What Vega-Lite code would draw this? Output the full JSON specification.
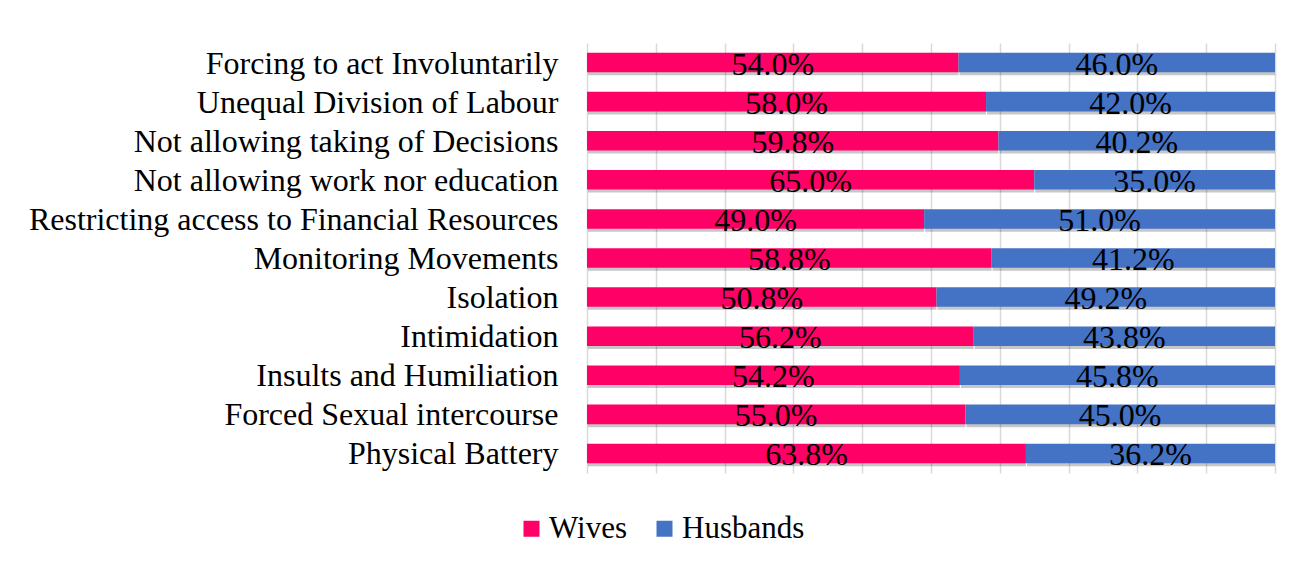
{
  "$schema": "https://vega.github.io/schema/vega-lite/v6.json",
  "width": 688,
  "height": 430,
  "autosize": {"type": "none"},
  "padding": {"left": 587, "top": 43, "right": 18, "bottom": 88},
  "background": "white",
  "config": {
    "font": "Liberation Serif, Times New Roman, serif",
    "view": {"stroke": null}
  },
  "data": {
    "values": [
      {"cat": "Forcing to act Involuntarily", "series": "Wives", "ord": 1, "value": 54.0},
      {"cat": "Forcing to act Involuntarily", "series": "Husbands", "ord": 2, "value": 46.0},
      {"cat": "Unequal Division of Labour", "series": "Wives", "ord": 1, "value": 58.0},
      {"cat": "Unequal Division of Labour", "series": "Husbands", "ord": 2, "value": 42.0},
      {"cat": "Not allowing taking of Decisions", "series": "Wives", "ord": 1, "value": 59.8},
      {"cat": "Not allowing taking of Decisions", "series": "Husbands", "ord": 2, "value": 40.2},
      {"cat": "Not allowing work nor education", "series": "Wives", "ord": 1, "value": 65.0},
      {"cat": "Not allowing work nor education", "series": "Husbands", "ord": 2, "value": 35.0},
      {"cat": "Restricting access to Financial Resources", "series": "Wives", "ord": 1, "value": 49.0},
      {"cat": "Restricting access to Financial Resources", "series": "Husbands", "ord": 2, "value": 51.0},
      {"cat": "Monitoring Movements", "series": "Wives", "ord": 1, "value": 58.8},
      {"cat": "Monitoring Movements", "series": "Husbands", "ord": 2, "value": 41.2},
      {"cat": "Isolation", "series": "Wives", "ord": 1, "value": 50.8},
      {"cat": "Isolation", "series": "Husbands", "ord": 2, "value": 49.2},
      {"cat": "Intimidation", "series": "Wives", "ord": 1, "value": 56.2},
      {"cat": "Intimidation", "series": "Husbands", "ord": 2, "value": 43.8},
      {"cat": "Insults and Humiliation", "series": "Wives", "ord": 1, "value": 54.2},
      {"cat": "Insults and Humiliation", "series": "Husbands", "ord": 2, "value": 45.8},
      {"cat": "Forced Sexual intercourse", "series": "Wives", "ord": 1, "value": 55.0},
      {"cat": "Forced Sexual intercourse", "series": "Husbands", "ord": 2, "value": 45.0},
      {"cat": "Physical Battery", "series": "Wives", "ord": 1, "value": 63.8},
      {"cat": "Physical Battery", "series": "Husbands", "ord": 2, "value": 36.2}
    ]
  },
  "transform": [
    {"stack": "value", "groupby": ["cat"], "sort": [{"field": "ord", "order": "ascending"}], "as": ["x0", "x1"]},
    {"calculate": "(datum.x0 + datum.x1) / 2", "as": "mid"},
    {"calculate": "format(datum.value, '.1f') + '%'", "as": "label"}
  ],
  "encoding": {
    "y": {
      "field": "cat",
      "type": "nominal",
      "sort": null,
      "scale": {"paddingInner": 0.5, "paddingOuter": 0.25},
      "axis": {
        "title": null,
        "domain": false,
        "ticks": false,
        "labelFontSize": 32,
        "labelColor": "#000000",
        "labelPadding": 29,
        "labelBaseline": "middle",
        "labelOffset": 1,
        "labelLimit": 700
      }
    }
  },
  "layer": [
    {
      "mark": {"type": "bar", "color": "#000000", "opacity": 0.22, "yOffset": 3, "xOffset": 1},
      "encoding": {
        "x": {
          "field": "x0",
          "type": "quantitative",
          "scale": {"domain": [0, 100], "nice": false},
          "axis": {
            "title": null,
            "labels": false,
            "ticks": false,
            "domain": false,
            "grid": true,
            "gridColor": "#d9d9d9",
            "gridWidth": 1.5,
            "values": [0, 10, 20, 30, 40, 50, 60, 70, 80, 90, 100]
          }
        },
        "x2": {"field": "x1"}
      }
    },
    {
      "mark": {"type": "bar"},
      "encoding": {
        "x": {"field": "x0", "type": "quantitative"},
        "x2": {"field": "x1"},
        "color": {
          "field": "series",
          "type": "nominal",
          "scale": {"domain": ["Wives", "Husbands"], "range": ["#ff0066", "#4472c4"]},
          "legend": {
            "title": null,
            "orient": "none",
            "direction": "horizontal",
            "legendX": -71,
            "legendY": 470,
            "symbolType": "square",
            "symbolSize": 256,
            "symbolStrokeWidth": 0,
            "labelFont": "Liberation Serif, Times New Roman, serif",
            "labelFontSize": 31,
            "labelColor": "#000000",
            "labelOffset": 2,
            "columnPadding": 22,
            "labelLimit": 300
          }
        }
      }
    },
    {
      "mark": {"type": "text", "font": "Liberation Serif, Times New Roman, serif", "fontSize": 32, "color": "#000000", "baseline": "alphabetic", "dy": 12, "align": "center"},
      "encoding": {
        "x": {"field": "mid", "type": "quantitative"},
        "text": {"field": "label", "type": "nominal"}
      }
    }
  ]
}
